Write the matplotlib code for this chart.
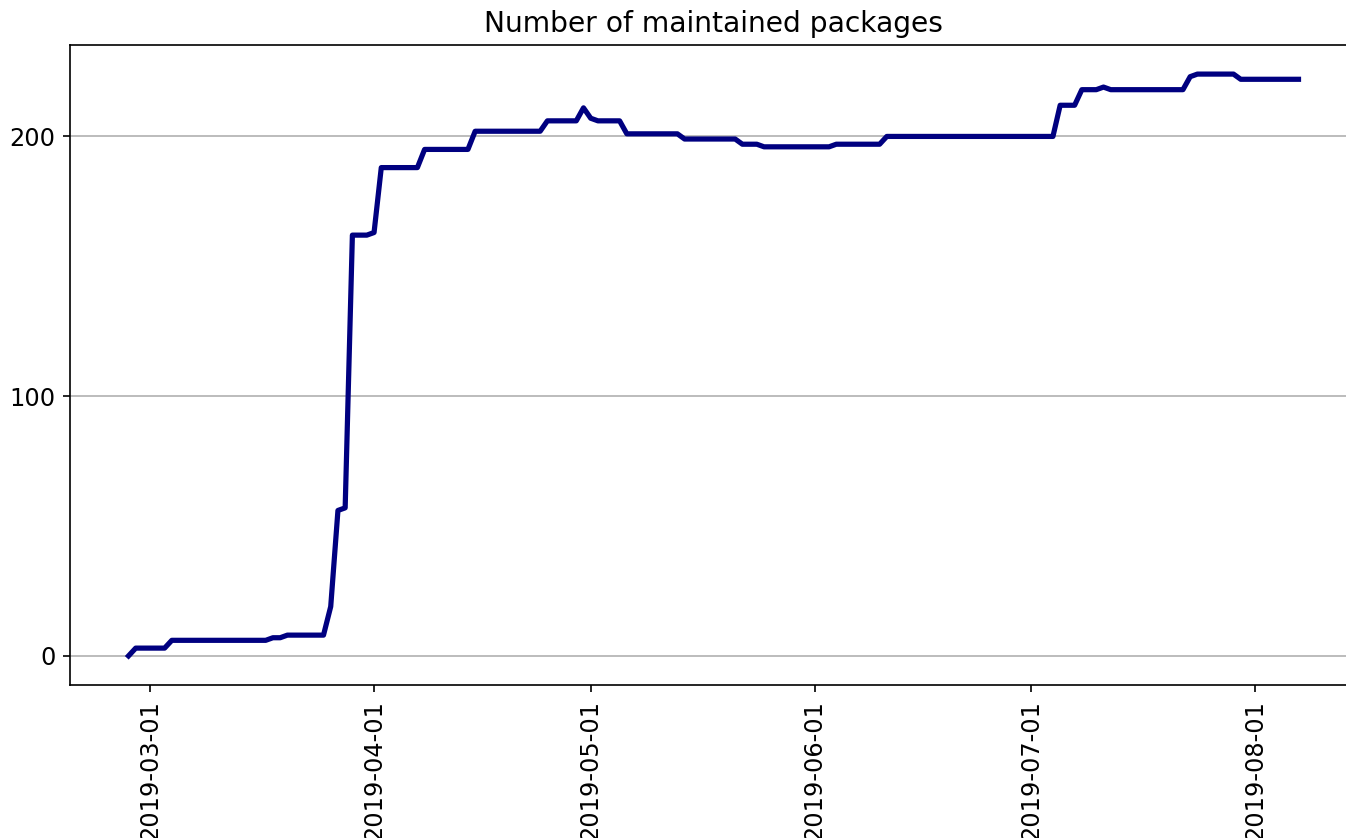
#!/usr/bin/env python
# coding: utf-8

import pandas as pd
import matplotlib
matplotlib.use("Agg")
import matplotlib.pyplot as plt
import matplotlib.dates as mdates

# Daily number of maintained packages
start_date = "2019-02-26"
feb_values = [0, 3, 3]
mar_values = [3, 3, 3,
              6, 6, 6, 6, 6, 6, 6, 6, 6, 6, 6, 6, 6, 6,
              7, 7,
              8, 8, 8, 8, 8, 8,
              19, 56, 57, 162, 162, 162]
apr_values = [163,
              188, 188, 188, 188, 188, 188,
              195, 195, 195, 195, 195, 195, 195,
              202, 202, 202, 202, 202, 202, 202, 202, 202, 202,
              206, 206, 206, 206, 206,
              211]
may_values = [207,
              206, 206, 206, 206,
              201, 201, 201, 201, 201, 201, 201, 201,
              199, 199, 199, 199, 199, 199, 199, 199,
              197, 197, 197,
              196, 196, 196, 196, 196, 196, 196]
jun_values = [196, 196, 196,
              197, 197, 197, 197, 197, 197, 197,
              200, 200, 200, 200, 200, 200, 200, 200, 200, 200,
              200, 200, 200, 200, 200, 200, 200, 200, 200, 200]
jul_values = [200, 200, 200, 200,
              212, 212, 212,
              218, 218, 218,
              219,
              218, 218, 218, 218, 218, 218, 218, 218, 218, 218, 218,
              223,
              224, 224, 224, 224, 224, 224,
              222, 222]
aug_values = [222, 222, 222, 222, 222, 222, 222]

y_ticks = [0, 100, 200]
x_tick_labels = ["2019-03-01", "2019-04-01", "2019-05-01",
                 "2019-06-01", "2019-07-01", "2019-08-01"]


def main():
    values = feb_values + mar_values + apr_values + may_values + jun_values + jul_values + aug_values
    dates = pd.date_range(start_date, periods=len(values), freq="D")
    series = pd.Series(values, index=dates)

    fig = plt.figure(figsize=(1346 / 150, 838 / 150), dpi=150)
    # right edge of the axes lies outside the picture, as in the reference
    ax = fig.add_axes([70 / 1346, 153 / 838, 1287 / 1346, 640 / 838])
    ax.plot(series.index, series.values, color="navy", linewidth=2.5)

    ax.set_title("Number of maintained packages", fontsize=13.5)
    ax.set_yticks(y_ticks)
    ax.set_xticks(pd.to_datetime(x_tick_labels))
    ax.xaxis.set_major_formatter(mdates.DateFormatter("%Y-%m-%d"))
    ax.tick_params(labelsize=11.5)
    plt.setp(ax.get_xticklabels(), rotation=90)
    ax.grid(True, axis="y")
    ax.set_axisbelow(True)

    fig.savefig("out.png", dpi=150)


if __name__ == '__main__':
    main()
